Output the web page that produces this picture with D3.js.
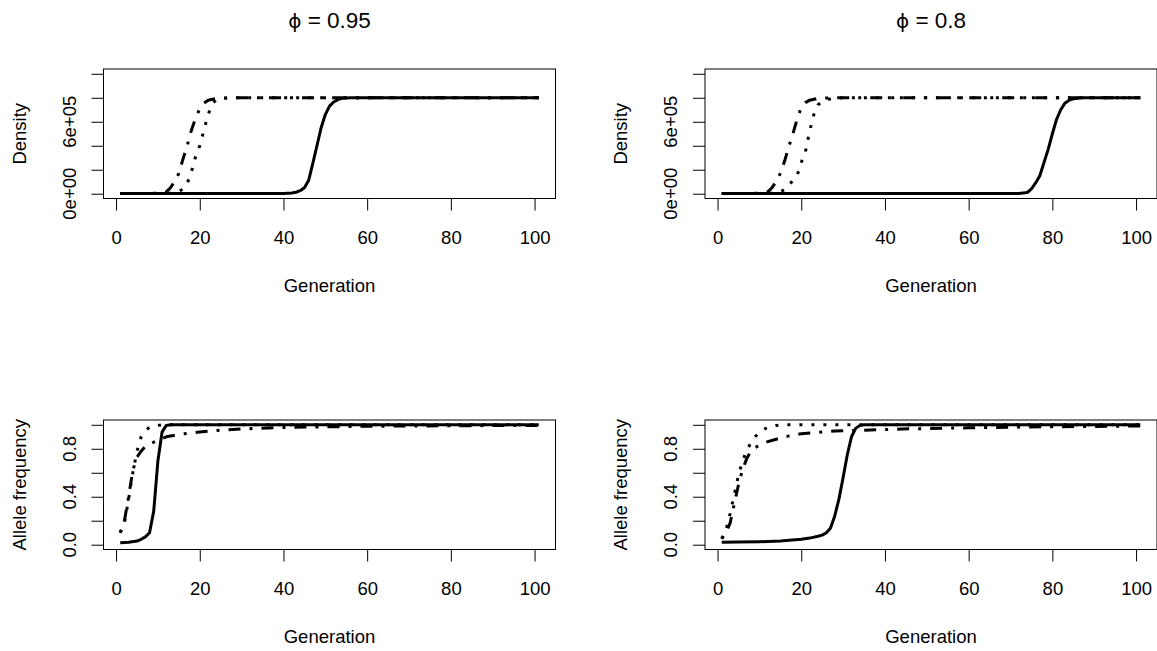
<!DOCTYPE html>
<html>
<head>
<meta charset="utf-8">
<script src="https://cdn.jsdelivr.net/npm/d3@7"></script>
<style>
  body { margin: 0; background: #fff; }
  text { font-family: "Liberation Sans", Arial, sans-serif; fill: #000; }
</style>
</head>
<body>
<svg id="chart"></svg>
<script>
// panel titles
const phiValues = ['0.95', '0.8'];

// x axis
const genTicks = [0, 20, 40, 60, 80, 100];

// y axes: R drops the labels that would collide
const densityTicks = [0, 2e5, 4e5, 6e5, 8e5, 1e6];
const densityTickLabels = ['0e+00', '', '', '6e+05', '', ''];
const freqTicks = [0, 0.2, 0.4, 0.6, 0.8, 1];
const freqTickLabels = ['0.0', '', '0.4', '', '0.8', ''];

// density, phi = 0.95  ([generation, density])
const dens95Solid = [[1, 1e3], [40, 2e3], [42, 6e3], [43, 1.2e4], [44, 2.5e4], [45, 5e4], [46, 1.1e5], [47, 2.5e5], [48, 4.0e5], [49, 5.5e5], [50, 6.6e5], [51, 7.3e5], [52, 7.65e5], [53, 7.85e5], [54, 7.95e5], [56, 8e5], [101, 8e5]];
const dens95Dotted = [[1, 1e3], [13, 3e3], [14, 8e3], [15, 1.8e4], [16, 4e4], [17, 8.5e4], [18, 1.8e5], [19, 3.1e5], [20, 4.0e5], [21, 5.3e5], [22, 6.6e5], [23, 7.5e5], [24, 7.85e5], [26, 7.97e5], [28, 8e5], [101, 8e5]];
const dens95DotDash = [[1, 1e3], [10, 3e3], [11, 6e3], [12, 1.5e4], [13, 5e4], [14, 1.0e5], [15, 1.7e5], [16, 2.9e5], [17, 4.0e5], [18, 5.3e5], [19, 6.3e5], [20, 7.1e5], [21, 7.55e5], [22, 7.8e5], [24, 7.95e5], [27, 8e5], [101, 8e5]];

// density, phi = 0.8
const dens80Solid = [[1, 1e3], [72, 2e3], [74, 1e4], [75, 4e4], [76, 9e4], [77, 1.5e5], [78, 2.6e5], [79, 3.7e5], [80, 5.0e5], [81, 6.2e5], [82, 7.0e5], [83, 7.55e5], [84, 7.8e5], [85, 7.92e5], [87, 8e5], [101, 8e5]];
const dens80Dotted = [[1, 1e3], [14, 3e3], [15, 1.5e4], [16, 3.5e4], [17, 7e4], [18, 1.1e5], [19, 1.5e5], [20, 2.6e5], [21, 3.5e5], [22, 5.2e5], [23, 6.6e5], [24, 7.4e5], [25, 7.7e5], [26, 7.85e5], [28, 7.95e5], [30, 8e5], [101, 8e5]];
const dens80DotDash = [[1, 1e3], [10, 3e3], [11, 6e3], [12, 1.5e4], [13, 5e4], [14, 1.0e5], [15, 1.7e5], [16, 2.7e5], [17, 3.9e5], [18, 5.0e5], [19, 6.2e5], [20, 7.2e5], [21, 7.6e5], [22, 7.8e5], [24, 7.95e5], [27, 8e5], [101, 8e5]];

// allele frequency, phi = 0.95
const freq95Solid = [[1, 0.017], [3, 0.02], [5, 0.03], [6, 0.045], [7, 0.065], [8, 0.1], [9, 0.28], [10, 0.7], [11, 0.94], [12, 0.995], [13, 1], [101, 1]];
const freq95Dotted = [[1, 0.1], [2, 0.18], [3, 0.38], [4, 0.6], [5, 0.78], [6, 0.9], [7, 0.95], [8, 0.98], [9, 0.99], [11, 1], [101, 1]];
const freq95DotDash = [[1, 0.1], [2, 0.2], [3, 0.4], [4, 0.62], [5, 0.73], [6, 0.78], [7, 0.82], [8, 0.84], [10, 0.87], [12, 0.9], [15, 0.92], [20, 0.94], [25, 0.955], [30, 0.965], [40, 0.978], [60, 0.988], [80, 0.992], [101, 0.995]];

// allele frequency, phi = 0.8
const freq80Solid = [[1, 0.02], [5, 0.022], [10, 0.025], [15, 0.03], [20, 0.045], [22, 0.055], [24, 0.07], [25, 0.08], [26, 0.1], [27, 0.14], [28, 0.24], [29, 0.38], [30, 0.56], [31, 0.75], [32, 0.9], [33, 0.97], [34, 0.995], [35, 1], [101, 1]];
const freq80Dotted = [[1, 0.05], [2, 0.12], [3, 0.26], [4, 0.42], [5, 0.58], [6, 0.7], [7, 0.79], [8, 0.85], [9, 0.9], [10, 0.94], [12, 0.98], [14, 0.995], [16, 1], [101, 1]];
const freq80DotDash = [[1, 0.05], [2, 0.1], [3, 0.18], [4, 0.34], [5, 0.5], [6, 0.63], [7, 0.72], [8, 0.78], [9, 0.81], [10, 0.83], [12, 0.86], [14, 0.88], [16, 0.9], [20, 0.925], [28, 0.948], [44, 0.965], [60, 0.975], [75, 0.982], [101, 0.99]];

// layout
const width = 1157;
const height = 651;
const colLeft = [103.5, 705];
const rowTop = [69, 420];
const panelW = 452;
const panelH = 129.5;
const fontSize = 18.5;
const lineW = 3;
const dashes = { solid: null, dotted: '3 9', dotdash: '3 9 12 9' };

const svg = d3.select('#chart').attr('width', width).attr('height', height);

// R pads each axis range by 4%
function padded(lo, hi) {
  const d = (hi - lo) * 0.04;
  return [lo - d, hi + d];
}

const panels = [
  { col: 0, row: 0, ylab: 'Density', yLim: [0, 1e6], ticks: densityTicks, labels: densityTickLabels,
    series: [[dens95Solid, 'solid'], [dens95Dotted, 'dotted'], [dens95DotDash, 'dotdash']] },
  { col: 1, row: 0, ylab: 'Density', yLim: [0, 1e6], ticks: densityTicks, labels: densityTickLabels,
    series: [[dens80Solid, 'solid'], [dens80Dotted, 'dotted'], [dens80DotDash, 'dotdash']] },
  { col: 0, row: 1, ylab: 'Allele frequency', yLim: [0, 1], ticks: freqTicks, labels: freqTickLabels,
    series: [[freq95Solid, 'solid'], [freq95Dotted, 'dotted'], [freq95DotDash, 'dotdash']] },
  { col: 1, row: 1, ylab: 'Allele frequency', yLim: [0, 1], ticks: freqTicks, labels: freqTickLabels,
    series: [[freq80Solid, 'solid'], [freq80Dotted, 'dotted'], [freq80DotDash, 'dotdash']] },
];

function drawPanel(p, i) {
  const g = svg.append('g')
    .attr('transform', `translate(${colLeft[p.col]},${rowTop[p.row]})`);

  const x = d3.scaleLinear().domain(padded(1, 101)).range([0, panelW]);
  const y = d3.scaleLinear().domain(padded(p.yLim[0], p.yLim[1])).range([panelH, 0]);

  g.append('clipPath').attr('id', `clip${i}`)
    .append('rect').attr('width', panelW).attr('height', panelH);

  const line = d3.line().x(d => x(d[0])).y(d => y(d[1]));
  g.append('g').attr('clip-path', `url(#clip${i})`)
    .selectAll('path')
    .data(p.series)
    .join('path')
    .attr('d', d => line(d[0]))
    .attr('fill', 'none')
    .attr('stroke', '#000')
    .attr('stroke-width', lineW)
    .attr('stroke-linejoin', 'round')
    .attr('stroke-dasharray', d => dashes[d[1]]);

  // x axis
  const xAxis = g.append('g')
    .attr('transform', `translate(0,${panelH})`)
    .call(d3.axisBottom(x).tickValues(genTicks).tickSize(12).tickPadding(20.5).tickSizeOuter(0));
  xAxis.select('.domain').remove();
  xAxis.selectAll('line').attr('stroke', '#000');
  xAxis.selectAll('text').attr('font-size', fontSize).attr('font-family', null);

  // y axis, labels parallel to the axis
  const yAxis = g.append('g')
    .call(d3.axisLeft(y).tickValues(p.ticks).tickSize(12).tickFormat(() => '').tickSizeOuter(0));
  yAxis.select('.domain').remove();
  yAxis.selectAll('line').attr('stroke', '#000');
  g.selectAll('.ylabel')
    .data(p.ticks.map((t, k) => [t, p.labels[k]]).filter(d => d[1]))
    .join('text')
    .attr('class', 'ylabel')
    .attr('font-size', fontSize)
    .attr('text-anchor', 'middle')
    .attr('transform', d => `translate(-28,${y(d[0])}) rotate(-90)`)
    .text(d => d[1]);

  g.append('rect')
    .attr('width', panelW).attr('height', panelH)
    .attr('fill', 'none').attr('stroke', '#000').attr('stroke-width', 1);

  g.append('text')
    .attr('x', panelW / 2).attr('y', panelH + 93.5)
    .attr('text-anchor', 'middle').attr('font-size', fontSize)
    .text('Generation');

  g.append('text')
    .attr('font-size', fontSize).attr('text-anchor', 'middle')
    .attr('transform', `translate(-78,${panelH / 2}) rotate(-90)`)
    .text(p.ylab);

  if (p.row === 0) {
    const t = g.append('text')
      .attr('x', panelW / 2).attr('y', -41)
      .attr('text-anchor', 'middle').attr('font-size', 22.5);
    t.append('tspan').attr('font-family', 'DejaVu Sans').attr('font-size', 20).text('\u03D5');
    t.append('tspan').text(` = ${phiValues[p.col]}`);
  }
}

panels.forEach(drawPanel);
</script>
</body>
</html>
